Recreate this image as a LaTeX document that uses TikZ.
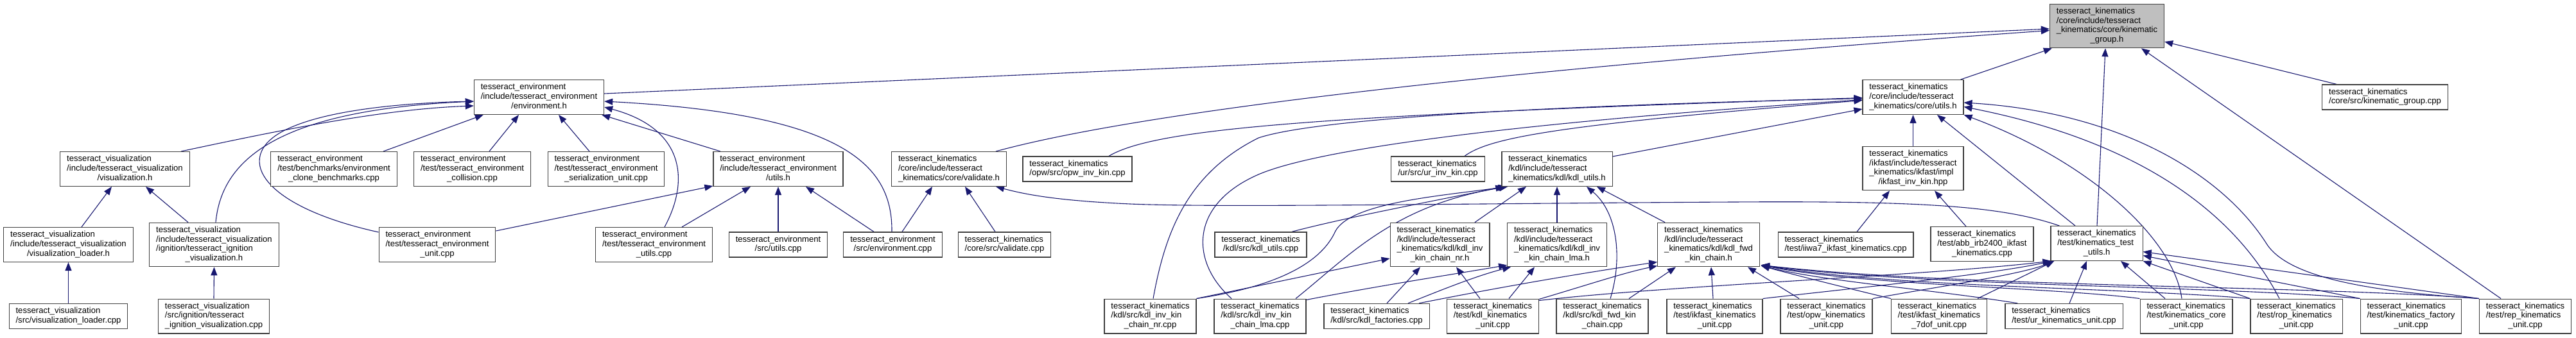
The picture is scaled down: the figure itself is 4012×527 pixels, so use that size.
\documentclass[tikz,border=0pt]{standalone}
\usepackage{fontspec}
\setmainfont{Liberation Sans}
\usetikzlibrary{arrows.meta,calc,backgrounds}
\definecolor{edgeblue}{HTML}{191970}
\definecolor{nodeborder}{HTML}{404040}
\newcommand\dlbl[2]{\begin{tabular}{@{}l@{}}#1\\\multicolumn{1}{@{}c@{}}{#2}\end{tabular}}
\begin{document}
\begin{tikzpicture}[x=1pt,y=-1pt,
  box/.style={draw=nodeborder,line width=1.2pt,fill=white,inner xsep=10.4pt,inner ysep=4.9pt,
    font=\fontsize{13.1pt}{14.67pt}\selectfont},
  rootbox/.style={box,fill=black!25},
  e/.style={draw=edgeblue,line width=1.1pt,-{Triangle[length=13pt,width=10pt]}}]
\useasboundingbox (0,0) rectangle (4012,527);
% rank 0 / 1
\node[rootbox] (kg) at (3281.5,40.5) {\dlbl{tesseract\_kinematics\\/core/include/tesseract\\\_kinematics/core/kinematic}{\_group.h}};
\node[box] (envh) at (839.5,151.5) {\dlbl{tesseract\_environment\\/include/tesseract\_environment}{/environment.h}};
\node[box] (cu) at (2979.5,151.5) {\dlbl{tesseract\_kinematics\\/core/include/tesseract}{\_kinematics/core/utils.h}};
\node[box] (kgcpp) at (3714.5,151.5) {\dlbl{tesseract\_kinematics}{/core/src/kinematic\_group.cpp}};
% rank 2
\node[box] (vish) at (194.5,263.5) {\dlbl{tesseract\_visualization\\/include/tesseract\_visualization}{/visualization.h}};
\node[box] (clone) at (520,263.5) {\dlbl{tesseract\_environment\\/test/benchmarks/environment}{\_clone\_benchmarks.cpp}};
\node[box] (coll) at (735.5,263.5) {\dlbl{tesseract\_environment\\/test/tesseract\_environment}{\_collision.cpp}};
\node[box] (ser) at (944,263.5) {\dlbl{tesseract\_environment\\/test/tesseract\_environment}{\_serialization\_unit.cpp}};
\node[box] (envutils) at (1212,263.5) {\dlbl{tesseract\_environment\\/include/tesseract\_environment}{/utils.h}};
\node[box] (valh) at (1478,263.5) {\dlbl{tesseract\_kinematics\\/core/include/tesseract}{\_kinematics/core/validate.h}};
\node[box] (opw) at (1678,263.5) {\dlbl{tesseract\_kinematics}{/opw/src/opw\_inv\_kin.cpp}};
\node[box] (ur) at (2239.5,263.5) {\dlbl{tesseract\_kinematics}{/ur/src/ur\_inv\_kin.cpp}};
\node[box] (kdlu) at (2425,263.5) {\dlbl{tesseract\_kinematics\\/kdl/include/tesseract}{\_kinematics/kdl/kdl\_utils.h}};
\node[box] (ikf) at (2979.5,262.5) {\dlbl{tesseract\_kinematics\\/ikfast/include/tesseract\\\_kinematics/ikfast/impl}{/ikfast\_inv\_kin.hpp}};
% rank 3
\node[box] (loaderh) at (106.5,381.5) {\dlbl{tesseract\_visualization\\/include/tesseract\_visualization}{/visualization\_loader.h}};
\node[box] (ignh) at (333.5,381.5) {\dlbl{tesseract\_visualization\\/include/tesseract\_visualization\\/ignition/tesseract\_ignition}{\_visualization.h}};
\node[box] (envunit) at (681,381.5) {\dlbl{tesseract\_environment\\/test/tesseract\_environment}{\_unit.cpp}};
\node[box] (tenvutils) at (1018.5,381.5) {\dlbl{tesseract\_environment\\/test/tesseract\_environment}{\_utils.cpp}};
\node[box] (srcutils) at (1212,381.5) {\dlbl{tesseract\_environment}{/src/utils.cpp}};
\node[box] (srcenv) at (1390.5,381.5) {\dlbl{tesseract\_environment}{/src/environment.cpp}};
\node[box] (valcpp) at (1564.5,381.5) {\dlbl{tesseract\_kinematics}{/core/src/validate.cpp}};
\node[box] (kdlucpp) at (1963.5,381.5) {\dlbl{tesseract\_kinematics}{/kdl/src/kdl\_utils.cpp}};
\node[box] (nrh) at (2242.5,381.5) {\dlbl{tesseract\_kinematics\\/kdl/include/tesseract\\\_kinematics/kdl/kdl\_inv}{\_kin\_chain\_nr.h}};
\node[box] (lmah) at (2425,381.5) {\dlbl{tesseract\_kinematics\\/kdl/include/tesseract\\\_kinematics/kdl/kdl\_inv}{\_kin\_chain\_lma.h}};
\node[box] (fwdh) at (2661,381.5) {\dlbl{tesseract\_kinematics\\/kdl/include/tesseract\\\_kinematics/kdl/kdl\_fwd}{\_kin\_chain.h}};
\node[box] (iiwa) at (2874.5,381.5) {\dlbl{tesseract\_kinematics}{/test/iiwa7\_ikfast\_kinematics.cpp}};
\node[box] (abb) at (3087,380.5) {\dlbl{tesseract\_kinematics\\/test/abb\_irb2400\_ikfast}{\_kinematics.cpp}};
\node[box] (tu) at (3265.5,379.5) {\dlbl{tesseract\_kinematics\\/test/kinematics\_test}{\_utils.h}};
% rank 4
\node[box] (loadercpp) at (106.5,493) {\dlbl{tesseract\_visualization}{/src/visualization\_loader.cpp}};
\node[box] (igncpp) at (333,493) {\dlbl{tesseract\_visualization\\/src/ignition/tesseract}{\_ignition\_visualization.cpp}};
\node[box] (nrcpp) at (1791.5,493) {\dlbl{tesseract\_kinematics\\/kdl/src/kdl\_inv\_kin}{\_chain\_nr.cpp}};
\node[box] (lmacpp) at (1962.5,493) {\dlbl{tesseract\_kinematics\\/kdl/src/kdl\_inv\_kin}{\_chain\_lma.cpp}};
\node[box] (fact) at (2144,493) {\dlbl{tesseract\_kinematics}{/kdl/src/kdl\_factories.cpp}};
\node[box] (kdlku) at (2325,493) {\dlbl{tesseract\_kinematics\\/test/kdl\_kinematics}{\_unit.cpp}};
\node[box] (fwdcpp) at (2495.5,493) {\dlbl{tesseract\_kinematics\\/kdl/src/kdl\_fwd\_kin}{\_chain.cpp}};
\node[box] (ikfu) at (2670.5,493) {\dlbl{tesseract\_kinematics\\/test/ikfast\_kinematics}{\_unit.cpp}};
\node[box] (opwu) at (2844.5,493) {\dlbl{tesseract\_kinematics\\/test/opw\_kinematics}{\_unit.cpp}};
\node[box] (sevdof) at (3020,493) {\dlbl{tesseract\_kinematics\\/test/ikfast\_kinematics}{\_7dof\_unit.cpp}};
\node[box] (uru) at (3214.5,493) {\dlbl{tesseract\_kinematics}{/test/ur\_kinematics\_unit.cpp}};
\node[box] (coreu) at (3405,493) {\dlbl{tesseract\_kinematics\\/test/kinematics\_core}{\_unit.cpp}};
\node[box] (ropu) at (3576.5,493) {\dlbl{tesseract\_kinematics\\/test/rop\_kinematics}{\_unit.cpp}};
\node[box] (factu) at (3755,493) {\dlbl{tesseract\_kinematics\\/test/kinematics\_factory}{\_unit.cpp}};
\node[box] (repu) at (3933,493) {\dlbl{tesseract\_kinematics\\/test/rep\_kinematics}{\_unit.cpp}};

\begin{pgfonlayer}{background}
% into kinematic_group.h
\draw[e] ($(envh.east)+(0,-5.5)$) -- ($(kg.west)+(0,4.5)$);
\draw[e] ($(valh.north)+(73,0)$) .. controls (1700,195) and (2100,125) .. ($(kg.west)+(0,7)$);
\draw[e] ($(cu.north east)+(-5,0)$) -- ($(kg.south west)+(4,0)$);
\draw[e] ($(tu.north)+(0.5,0)$) -- ($(kg.south)+(-2.5,0)$);
\draw[e] ($(kgcpp.north)+(-75.5,0)$) -- ($(kg.east)+(0,24.5)$);
\draw[e] ($(repu.north)+(-38,0)$) -- ($(kg.south)+(53.5,0)$);
% into core/utils.h
\draw[e] ($(opw.north)+(49,0)$) .. controls (1800,200) and (2050,180) .. ($(cu.west)+(0,1)$);
\draw[e] ($(ur.north)+(41.5,0)$) .. controls (2320,215) and (2420,195) .. ($(cu.west)+(0,5)$);
\draw[e] ($(kdlu.north east)+(0,8)$) -- ($(cu.west)+(0,18.5)$);
\draw[e] (ikf.north) -- (cu.south);
\draw[e] ($(tu.north)+(-33.5,0)$) -- ($(cu.south)+(37.5,0)$);
\draw[e] ($(coreu.north)+(-7,0)$) .. controls (3385,370) and (3250,250) .. (cu.south east);
\draw[e] ($(ropu.north)+(-26.5,0)$) .. controls (3480,330) and (3330,220) .. ($(cu.east)+(0,15)$);
\draw[e] (repu.north west) .. controls (3700,455) and (3565,435) .. (3530,380) .. controls (3460,270) and (3300,175) .. ($(cu.east)+(0,8.5)$);
\draw[e] ($(nrcpp.north)+(4.5,0)$) .. controls (1815,360) and (1850,270) .. (1960,215) .. controls (2050,185) and (2400,165) .. ($(cu.west)+(0,2)$);
\draw[e] ($(lmacpp.north)+(-44.5,0)$) .. controls (1855,410) and (1850,320) .. (1960,272) .. controls (2070,225) and (2450,185) .. ($(cu.west)+(0,4)$);
% into environment.h
\draw[e] ($(vish.north)+(87.5,0)$) .. controls (450,200) and (600,170) .. ($(envh.west)+(0,13.5)$);
\draw[e] ($(ignh.north)+(2.5,0)$) .. controls (345,250) and (430,172) .. ($(envh.west)+(0,6.5)$);
\draw[e] ($(envunit.west)+(0,-19.5)$) .. controls (400,320) and (360,240) .. (450,200) .. controls (520,168) and (650,160) .. ($(envh.west)+(0,6.5)$);
\draw[e] ($(clone.north)+(77,0)$) -- ($(envh.south west)+(15,0)$);
\draw[e] ($(coll.north)+(26.5,0)$) -- ($(envh.south)+(-31.5,0)$);
\draw[e] ($(ser.north)+(-26,0)$) -- ($(envh.south)+(30.5,0)$);
\draw[e] ($(envutils.north)+(-90,0)$) -- ($(envh.south east)+(-4,0)$);
\draw[e] ($(tenvutils.north)+(16.5,0)$) .. controls (1075,280) and (1065,200) .. ($(envh.east)+(0,15.5)$);
\draw[e] ($(srcenv.north)+(-1.5,0)$) .. controls (1390,260) and (1320,178) .. ($(envh.east)+(0,6.5)$);
% visualization
\draw[e] ($(loaderh.north)+(20.5,0)$) -- ($(vish.south)+(-20.5,0)$);
\draw[e] ($(ignh.north)+(-40.5,0)$) -- ($(vish.south)+(32.5,0)$);
\draw[e] (loadercpp.north) -- (loaderh.south);
\draw[e] (igncpp.north) -- (ignh.south);
% into environment utils.h
\draw[e] ($(envunit.north east)+(0,6)$) -- ($(envutils.south west)+(0,-1)$);
\draw[e] ($(tenvutils.north)+(43.5,0)$) -- ($(envutils.south)+(-43,0)$);
\draw[e] (srcutils.north) -- (envutils.south);
\draw[e] ($(srcenv.north)+(-29.5,0)$) -- ($(envutils.south)+(43,0)$);
% into validate.h
\draw[e] ($(srcenv.north)+(14.5,0)$) -- ($(valh.south)+(-26,0)$);
\draw[e] ($(valcpp.north)+(-14.5,0)$) -- ($(valh.south)+(25,0)$);
\draw[e] ($(tu.north west)+(14,0)$) .. controls (3120,322) and (3000,313) .. (2700,315) .. controls (2300,317) and (1900,324) .. (1760,318) .. controls (1650,313) and (1600,304) .. ($(valh.south east)+(-17,0)$);
% into kdl_utils.h
\draw[e] ($(kdlucpp.north)+(48.5,0)$) .. controls (2100,338) and (2250,310) .. ($(kdlu.south west)+(4,0)$);
\draw[e] (nrcpp.north east) .. controls (2000,445) and (2060,405) .. (2080,360) .. controls (2105,315) and (2250,305) .. ($(kdlu.south west)+(8,0)$);
\draw[e] ($(lmacpp.north)+(55.5,0)$) .. controls (2100,400) and (2170,320) .. ($(kdlu.south west)+(10,0)$);
\draw[e] ($(nrh.north)+(54.5,0)$) -- ($(kdlu.south)+(-48,0)$);
\draw[e] (lmah.north) -- (kdlu.south);
\draw[e] ($(fwdh.north)+(-68,0)$) -- ($(kdlu.south)+(62,0)$);
\draw[e] ($(fwdcpp.north)+(12.5,0)$) .. controls (2528,400) and (2518,330) .. ($(kdlu.south)+(46,0)$);
% into kdl inv / fwd headers
\draw[e] (nrcpp.north east) -- ($(nrh.west)+(0,21.5)$);
\draw[e] ($(fact.north)+(16,0)$) -- ($(nrh.south)+(-30.5,0)$);
\draw[e] ($(kdlku.north)+(-20,0)$) -- ($(nrh.south)+(25.5,0)$);
\draw[e] ($(lmacpp.north east)+(0,2)$) .. controls (2150,445) and (2280,425) .. ($(lmah.south west)+(0,-3)$);
\draw[e] ($(fact.north)+(49,0)$) .. controls (2250,450) and (2300,430) .. ($(lmah.south west)+(6,0)$);
\draw[e] ($(kdlku.north)+(25,0)$) -- ($(lmah.south)+(-35,0)$);
\draw[e] ($(fact.north)+(66,0)$) .. controls (2350,445) and (2470,425) .. ($(fwdh.west)+(0,27)$);
\draw[e] ($(kdlku.north east)+(0,1)$) .. controls (2470,445) and (2530,425) .. ($(fwdh.west)+(0,33)$);
\draw[e] ($(fwdcpp.north)+(41.5,0)$) -- ($(fwdh.south)+(-51,0)$);
\draw[e] ($(ikfu.north)+(-2.5,0)$) -- ($(fwdh.south)+(4,0)$);
\draw[e] ($(opwu.north)+(-42.5,0)$) -- ($(fwdh.south)+(61,0)$);
\draw[e] (sevdof.north west) .. controls (2880,450) and (2800,430) .. ($(fwdh.south east)+(2,-2)$);
\draw[e] ($(uru.north west)+(20,0)$) .. controls (3000,450) and (2850,440) .. ($(fwdh.south east)+(2,-2)$);
\draw[e] (coreu.north west) .. controls (3200,448) and (2900,445) .. ($(fwdh.south east)+(2,-3)$);
\draw[e] (ropu.north west) .. controls (3300,448) and (2950,448) .. ($(fwdh.south east)+(2,-3)$);
\draw[e] (factu.north west) .. controls (3450,445) and (3000,447) .. ($(fwdh.south east)+(2,-3)$);
\draw[e] (repu.north west) .. controls (3600,445) and (3050,448) .. ($(fwdh.south east)+(2,-3)$);
% into ikfast_inv_kin.hpp
\draw[e] ($(iiwa.north)+(17.5,0)$) -- ($(ikf.south)+(-36.5,0)$);
\draw[e] ($(abb.north)+(-25,0)$) -- ($(ikf.south)+(33.5,0)$);
% into kinematics_test_utils.h
\draw[e] ($(kdlku.north east)+(0,3)$) .. controls (2600,445) and (3000,430) .. ($(tu.south west)+(1,0)$);
\draw[e] (ikfu.north east) .. controls (2900,448) and (3100,428) .. ($(tu.south west)+(3,0)$);
\draw[e] (opwu.north east) .. controls (3000,450) and (3150,428) .. ($(tu.south west)+(5,0)$);
\draw[e] ($(sevdof.north)+(60,0)$) -- ($(tu.south west)+(6,0)$);
\draw[e] ($(uru.north)+(8.5,0)$) -- ($(tu.south)+(-15.5,0)$);
\draw[e] ($(coreu.north)+(-33,0)$) -- ($(tu.south)+(37.5,0)$);
\draw[e] (ropu.north west) -- (tu.south east);
\draw[e] (factu.north west) -- ($(tu.east)+(0,19)$);
\draw[e] (repu.north west) -- ($(tu.east)+(0,13)$);
\end{pgfonlayer}
\end{tikzpicture}
\end{document}
